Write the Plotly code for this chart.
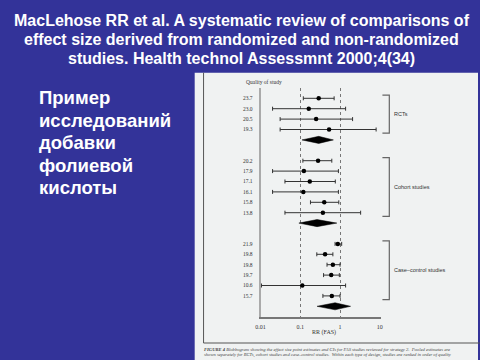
import plotly.graph_objects as go

W, H = 480, 360

# ---------------- data ----------------
title_lines = ["MacLehose RR et al. A systematic review of comparisons of",
               "effect size derived from randomized and non-randomized",
               "studies. Health technol Assessmnt 2000;4(34)"]
side_lines = ["Пример", "исследований", "добавки", "фолиевой", "кислоты"]

group_names = ["RCTs", "Cohort studies", "Case–control studies"]

quality_rct = ["23.7", "23.0", "20.5", "19.3"]
rr_rct = [0.29, 0.163, 0.25, 0.53]
lo_rct = [0.119, 0.020, 0.031, 0.031]
hi_rct = [0.71, 1.38, 2.07, 8.1]
pooled_rct = [0.11, 0.29, 0.68]

quality_cohort = ["20.2", "17.9", "17.1", "16.1", "15.8", "13.8"]
rr_cohort = [0.28, 0.123, 0.173, 0.119, 0.40, 0.37]
lo_cohort = [0.116, 0.020, 0.041, 0.020, 0.18, 0.041]
hi_cohort = [0.62, 0.91, 0.76, 0.91, 0.93, 3.3]
pooled_cohort = [0.092, 0.264, 0.83]

quality_case = ["21.9", "19.8", "19.8", "19.7", "10.6", "15.7"]
rr_case = [0.88, 0.42, 0.66, 0.60, 0.112, 0.62]
lo_case = [0.75, 0.26, 0.47, 0.385, 0.0105, 0.37]
hi_case = [1.10, 0.66, 1.0, 0.96, 1.38, 1.0]
pooled_case = [0.264, 0.75, 1.84]

x_tick_vals = [0.01, 0.1, 1, 10]
x_tick_text = ["0.01", "0.1", "1", "10"]
x_title = "RR (FAS)"
quality_header = "Quality of study"
caption_1 = "<b><i>FIGURE 4</i></b> <i>Blobbogram showing the effect size point estimates and CIs for FAS studies reviewed for strategy 2.  Pooled estimates are</i>"
caption_2 = "<i>shown separately for RCTs, cohort studies and case–control studies.  Within each type of design, studies are ranked in order of quality</i>"

groups = [
    (quality_rct, rr_rct, lo_rct, hi_rct, pooled_rct),
    (quality_cohort, rr_cohort, lo_cohort, hi_cohort, pooled_cohort),
    (quality_case, rr_case, lo_case, hi_case, pooled_case),
]

# ---------------- layout helpers ----------------
BG = "#333399"
PANEL = "#f0f2f2"
INK = "#333333"


def px(x):
    return x / W


def py(y):
    return 1 - y / H


decade_px = 40.3
one_px = 340
x_left_px = one_px - 2 * decade_px
x_right_px = one_px + 1.02 * decade_px

row0_px = 98.3
row_px = 10.4
y_top_px, y_bot_px = 88, 317
y_range = [(y_bot_px - row0_px) / row_px, (y_top_px - row0_px) / row_px]

fig = go.Figure()

tick_rows, tick_text = [], []
brackets = []
row = 0
for (q, rr, lo, hi, pooled) in groups:
    rows = list(range(row, row + len(q)))
    tick_rows += rows
    tick_text += q
    fig.add_trace(go.Scatter(
        x=rr, y=rows, mode="markers",
        marker=dict(color="black", size=4.5, symbol="circle"),
        error_x=dict(type="data", symmetric=False,
                     array=[h - r for h, r in zip(hi, rr)],
                     arrayminus=[r - l for r, l in zip(rr, lo)],
                     color=INK, thickness=1, width=2),
        showlegend=False, hoverinfo="skip"))
    d_row = row + len(q)
    hh = 0.34
    fig.add_trace(go.Scatter(
        x=[pooled[0], pooled[1], pooled[2], pooled[1], pooled[0]],
        y=[d_row, d_row - hh, d_row, d_row + hh, d_row],
        mode="lines", fill="toself", fillcolor="black",
        line=dict(color="black", width=0.5),
        showlegend=False, hoverinfo="skip"))
    brackets.append((rows[0], rows[-1]))
    row = d_row + 2

# ---------------- shapes ----------------
shapes = [
    dict(type="rect", xref="paper", yref="paper", x0=px(192.5), x1=1.0,
         y0=0, y1=py(72.7), fillcolor=PANEL, line=dict(width=0), layer="below"),
    dict(type="path", xref="paper", yref="paper",
         path=f"M {px(201.5)},{py(72.7)} L {px(201.5)},{py(343)} L 1.01,{py(343)}",
         line=dict(color="#555555", width=1)),
]
annotations = []
bx_v, bx_t = px(390), px(383)
for (r0, r1), name in zip(brackets, group_names):
    t0, t1 = r0 - 0.3, r1 + 0.35
    shapes.append(dict(type="path", xref="paper", yref="y",
                       path=f"M {bx_t},{t0} L {bx_v},{t0} L {bx_v},{t1} L {bx_t},{t1}",
                       line=dict(color="#666666", width=1.2)))
    annotations.append(dict(xref="paper", yref="y", x=px(393), y=(t0 + t1) / 2,
                            text=name, showarrow=False, xanchor="left", yanchor="middle",
                            font=dict(family="Liberation Sans", size=5.5, color=INK)))

for i, t in enumerate(title_lines):
    annotations.append(dict(xref="paper", yref="paper", x=0.5, y=py(20 + 19.5 * i),
                            text=f"<b>{t}</b>", showarrow=False,
                            xanchor="center", yanchor="middle",
                            font=dict(family="Liberation Sans", size=16, color="white")))
for i, t in enumerate(side_lines):
    annotations.append(dict(xref="paper", yref="paper", x=px(32), y=py(97.5 + 22.6 * i),
                            text=f"<b>{t}</b>", showarrow=False,
                            xanchor="left", yanchor="middle",
                            font=dict(family="Liberation Sans", size=18.5, color="white")))

annotations += [
    dict(xref="paper", yref="paper", x=px(243), y=py(82.5), text=quality_header,
         showarrow=False, xanchor="left", yanchor="middle",
         font=dict(family="Liberation Serif", size=5.5, color=INK)),
    dict(xref="paper", yref="paper", x=px(324), y=py(332), text=x_title,
         showarrow=False, xanchor="center", yanchor="middle",
         font=dict(family="Liberation Serif", size=6, color=INK)),
    dict(xref="paper", yref="paper", x=px(200), y=py(349.5), text=caption_1,
         showarrow=False, xanchor="left", yanchor="middle",
         font=dict(family="Liberation Serif", size=4.6, color="#444444")),
    dict(xref="paper", yref="paper", x=px(200), y=py(355), text=caption_2,
         showarrow=False, xanchor="left", yanchor="middle",
         font=dict(family="Liberation Serif", size=4.6, color="#444444")),
]

fig.update_layout(
    width=W, height=H, margin=dict(l=0, r=0, t=0, b=0),
    paper_bgcolor=BG, plot_bgcolor="rgba(0,0,0,0)",
    shapes=shapes, annotations=annotations, showlegend=False,
    xaxis=dict(type="log", domain=[px(x_left_px), px(x_right_px)], range=[-2, 1.02],
               tickvals=x_tick_vals, ticktext=x_tick_text, ticks="", ticklabelstandoff=3,
               tickfont=dict(family="Liberation Serif", size=6, color=INK),
               showgrid=True, gridcolor="#777777", gridwidth=1, griddash="dot",
               showline=True, linecolor="#777777", linewidth=1.5,
               zeroline=False, fixedrange=True),
    yaxis=dict(domain=[py(y_bot_px), py(y_top_px)], range=y_range,
               tickvals=tick_rows, ticktext=tick_text, ticks="", ticklabelstandoff=5,
               tickfont=dict(family="Liberation Serif", size=5.5, color=INK),
               showgrid=False, showline=True, linecolor="#aaaaaa", linewidth=2,
               zeroline=False, fixedrange=True),
)

fig.write_html("out.html", config={"displayModeBar": False},
               post_script="document.body.style.margin='0';document.body.style.overflow='hidden';")
